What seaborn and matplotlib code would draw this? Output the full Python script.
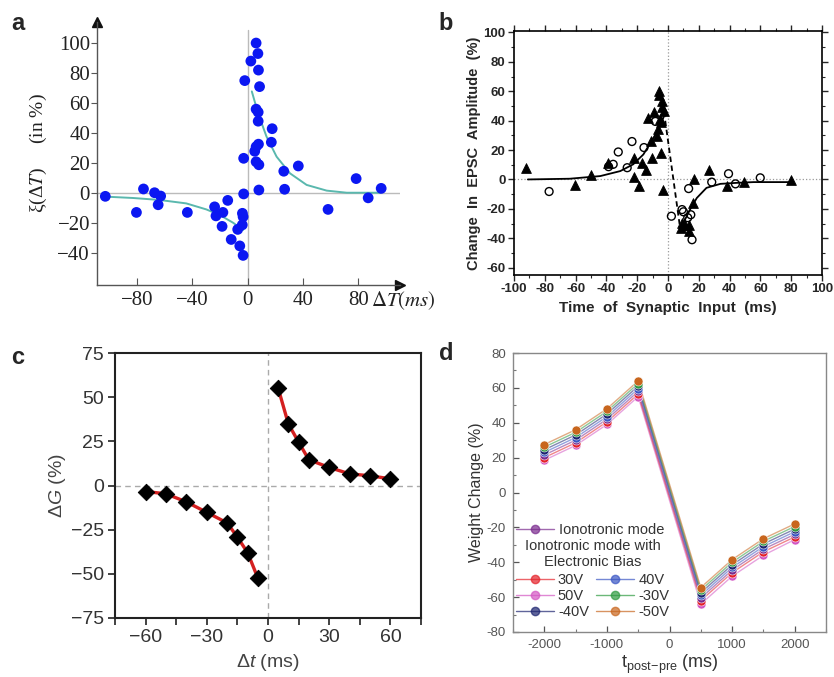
import numpy as np
import pandas as pd
import matplotlib
matplotlib.use("Agg")
import matplotlib.pyplot as plt
import matplotlib.ticker as mticker
from matplotlib.lines import Line2D
import seaborn as sns

# ---------------- Panel a data ----------------
a_dt = [-103, -80.5, -75.4, -67.4, -64.8, -63, -43.7, -24, -23, -18, -14.5, -18.6, -12,
        -7.3, -5.8, -4, -3.9, -3.4, -3.4, -3, -3, -2.2, 2.2, 6, 7.3, 7.7, 8.5, 6, 7.5, 7.5,
        7.7, 6, 5, 6, 8, 8, 17.6, 17, 26, 26.6, 36.5, 58, 78.3, 87, 96.4]
a_xi = [-2, -12.7, 2.9, 0.4, -7.6, -1.8, -12.7, -9, -15, -12.7, -4.7, -22, -30.7,
        -24, -35, -21, -13.3, -15.6, -41.3, -0.4, 23.3, 75, 88, 100, 93, 82, 71, 56, 54, 48,
        32.7, 31, 28, 21, 19, 2.2, 43, 34, 14.7, 2.7, 18.2, -10.7, 9.8, -3, 3.3]
a_fit_neg_x = [-103, -83, -64, -44.5, -30, -20.3, -10.6, -3.4]
a_fit_neg_y = [-2.2, -3.1, -4.4, -6.7, -10.7, -14.4, -19.6, -24.4]
a_fit_pos_x = [2.9, 7.5, 13.5, 20.8, 30.5, 42.5, 57, 71.5, 95.7]
a_fit_pos_y = [67.8, 53, 37.8, 24.4, 13.3, 5.6, 1.8, 0.4, 0.4]
a_xticks = [-80, -40, 0, 40, 80]
a_yticks = [-40, -20, 0, 20, 40, 60, 80, 100]

# ---------------- Panel b data ----------------
b_tri_x = [-92, -60.3, -50.3, -38.8, -22.3, -22.3, -19, -16.9, -14.3, -13, -10.8, -10.2, -8.9,
           -7.4, -6.7, -6.1, -5.6, -5.2, -4.8, -4.1, -3.7, -3.3, -2.8, -4.3,
           8.7, 9.3, 11, 13.4, 13.9, 16.5, 16.9, 26.9, 38.2, 49.5, 79.6]
b_tri_y = [7.5, -3.9, 2.7, 11, 1.8, 14.8, -4.6, 11, 6.6, 41.8, 26.3, 14.8, 45.7,
           29.7, 34.2, 60.5, 57.5, 41, 18.3, 49, 53.7, -7.3, 46.8, 38.8,
           -33, -29.7, -30.8, -35, -30.8, -16, 0, 6.2, -4.6, -1.6, -0.5]
b_circ_x = [-77.2, -38.6, -35.6, -32.3, -26.5, -23.4, -15.6, -8.2, 2.2, 9.1, 10, 13.4,
            14.8, 15.6, 12.8, 28.4, 39.3, 43.8, 59.9]
b_circ_y = [-8.2, 8.7, 10.3, 18.7, 8, 25.8, 21.7, 39.5, -25, -20.5, -22, -6.2,
            -24, -41, -26, -1.8, 3.9, -3, 1.1]
b_fit_l_x = [-91, -63.8, -44, -31, -22.6, -16, -10.6, -6.3, -3, -2.6]
b_fit_l_y = [0, 0.5, 2.3, 5.7, 10.3, 17, 26.3, 34, 42, 46]
b_dash_x = [-2.6, 8]
b_dash_y = [46, -34]
b_fit_r_x = [8, 11, 14.3, 18.7, 25, 34, 44.7, 55.5, 79.4]
b_fit_r_y = [-33, -27.4, -20.5, -12.6, -5.7, -3, -2.3, -1.8, -1.8]

# ---------------- Panel c data ----------------
c_dt_neg = [-60, -50, -40, -30, -20, -15, -10, -5]
c_dg_neg = [-3.4, -4.7, -9.3, -15.2, -21.2, -29.2, -38, -52.3]
c_dt_pos = [5, 10, 15, 20, 30, 40, 50, 60]
c_dg_pos = [55, 34.8, 24.6, 14.6, 10.2, 6.6, 5.5, 3.8]

# ---------------- Panel d data ----------------
d_t = [-2000, -1500, -1000, -500, 500, 1000, 1500, 2000]
d_names = ["Ionotronic mode", "30V", "40V", "50V", "-30V", "-40V", "-50V"]
d_ion = [21.5, 30.0, 42.0, 58.0, -60.5, -44.5, -32.5, -24.0]
d_30 = [20.0, 28.5, 40.5, 56.5, -62.0, -46.0, -34.0, -25.5]
d_40 = [23.0, 31.5, 43.5, 59.5, -59.0, -43.0, -31.0, -22.5]
d_50 = [18.5, 27.0, 39.0, 55.0, -64.0, -48.0, -36.0, -27.0]
d_m30 = [26.0, 34.5, 46.5, 62.5, -56.0, -40.0, -28.0, -19.5]
d_m40 = [24.5, 33.0, 45.0, 61.0, -57.5, -41.5, -29.5, -21.0]
d_m50 = [27.5, 36.0, 48.0, 64.0, -54.5, -38.5, -26.5, -18.0]
d_colors = {"Ionotronic mode": "#7a2a8e", "30V": "#e4222a", "40V": "#3a56c4",
            "50V": "#d356c3", "-30V": "#2e9a40", "-40V": "#1d2470", "-50V": "#c8661e"}

sns.set_style("ticks")
plt.rcParams["font.family"] = ["Liberation Sans", "DejaVu Sans"]
plt.rcParams["mathtext.fontset"] = "custom"
plt.rcParams["mathtext.rm"] = "Liberation Sans"
plt.rcParams["mathtext.it"] = "Liberation Sans:italic"

fig = plt.figure(figsize=(8.34, 6.77), dpi=100)
W, H = 834.0, 677.0

def place(l, t, r, b):
    return [l / W, 1 - b / H, (r - l) / W, (b - t) / H]

hy = mticker.FuncFormatter(lambda v, p: f"{v:g}")

# ================= Panel a =================
axA = fig.add_axes(place(97, 22, 400, 285))
serif = "Liberation Serif"
axA.axhline(0, color="#bbbbbb", lw=1.0, zorder=0)
axA.axvline(0, color="#bbbbbb", lw=1.0, zorder=0, ymax=0.97)
sns.lineplot(x=a_fit_neg_x, y=a_fit_neg_y, color="#5ab8ae", lw=1.4, ax=axA, estimator=None, sort=False)
sns.lineplot(x=a_fit_pos_x, y=a_fit_pos_y, color="#5ab8ae", lw=1.4, ax=axA, estimator=None, sort=False)
sns.scatterplot(x=a_dt, y=a_xi, color="#0b17f2", s=60, edgecolor="none", ax=axA, zorder=3)
axA.set_xlim(-109, 110)
axA.set_ylim(-61, 114)
for s in ["top", "right"]:
    axA.spines[s].set_visible(False)
for s in ["left", "bottom"]:
    axA.spines[s].set_color("#555555")
    axA.spines[s].set_linewidth(1.0)
axA.set_xticks(a_xticks)
axA.set_yticks(a_yticks)
axA.tick_params(axis="x", direction="in", length=5, color="#555555", pad=4)
axA.tick_params(axis="y", direction="out", length=4, color="#555555", pad=1)
for lab in axA.get_xticklabels() + axA.get_yticklabels():
    lab.set_fontfamily(serif)
    lab.set_fontsize(15)
    lab.set_color("#222222")
axA.plot(1, 0, ">", color="#111111", ms=7, transform=axA.transAxes, clip_on=False)
axA.plot(0, 1, "^", color="#111111", ms=7, transform=axA.transAxes, clip_on=False)
axA.set_ylabel(r"ξ(Δ$\mathit{T}$)     (in %)", fontfamily=serif, fontsize=14, math_fontfamily="stix",
               color="#222222", labelpad=6)
axA.text(0.905, -0.058, r"$\mathit{\Delta T(ms)}$", transform=axA.transAxes, ha="left", va="center",
         fontsize=15, math_fontfamily="stix", color="#222222")
axA.set_xlabel("")

# ================= Panel b =================
axB = fig.add_axes(place(514, 31, 822, 275))
axB.axhline(0, color="#999999", lw=0.9, ls=":", zorder=0)
axB.axvline(0, color="#999999", lw=0.9, ls=":", zorder=0)
sns.lineplot(x=b_fit_l_x, y=b_fit_l_y, color="black", lw=1.3, ax=axB, estimator=None, sort=False)
sns.lineplot(x=b_fit_r_x, y=b_fit_r_y, color="black", lw=1.3, ax=axB, estimator=None, sort=False)
sns.lineplot(x=b_dash_x, y=b_dash_y, color="black", lw=1.3, ax=axB, estimator=None, sort=False,
             linestyle=(0, (3, 2)))
sns.scatterplot(x=b_tri_x, y=b_tri_y, marker="^", color="black", s=50, edgecolor="black", ax=axB, zorder=3)
sns.scatterplot(x=b_circ_x, y=b_circ_y, marker="o", facecolor="none", edgecolor="black", linewidth=1.0,
                s=32, ax=axB, zorder=3)
axB.set_xlim(-100, 100)
axB.set_ylim(-65, 101)
axB.set_xticks(np.arange(-100, 101, 20))
axB.set_yticks(np.arange(-60, 101, 20))
axB.xaxis.set_minor_locator(mticker.MultipleLocator(10))
axB.yaxis.set_minor_locator(mticker.MultipleLocator(10))
axB.xaxis.set_major_formatter(hy)
axB.yaxis.set_major_formatter(hy)
axB.tick_params(which="major", direction="out", length=4, width=1.0, labelsize=9.5, pad=2)
axB.tick_params(which="minor", direction="out", length=2.5, width=0.8)
axB.tick_params(which="both", top=True, right=True)
for lab in axB.get_xticklabels() + axB.get_yticklabels():
    lab.set_fontweight("bold")
for s in axB.spines.values():
    s.set_linewidth(1.2)
    s.set_color("black")
axB.set_xlabel("Time  of  Synaptic  Input  (ms)", fontsize=11, fontweight="bold", labelpad=4)
axB.set_ylabel("Change  In  EPSC  Amplitude  (%)", fontsize=10.5, fontweight="bold", labelpad=2)

# ================= Panel c =================
axC = fig.add_axes(place(115, 353, 421, 618))
axC.axhline(0, color="#aaaaaa", lw=1.0, ls=(0, (4, 3)), zorder=0)
axC.axvline(0, color="#aaaaaa", lw=1.0, ls=(0, (4, 3)), zorder=0)
for xs, ys in [(c_dt_neg, c_dg_neg), (c_dt_pos, c_dg_pos)]:
    sns.lineplot(x=xs, y=ys, color="#d42020", lw=2.4, ax=axC, estimator=None, sort=False, zorder=2)
    sns.scatterplot(x=xs, y=ys, marker="D", color="black", s=70, edgecolor="black", ax=axC, zorder=3)
axC.set_xlim(-75, 75)
axC.set_ylim(-75, 75)
axC.set_xticks([-60, -30, 0, 30, 60])
axC.set_yticks([-75, -50, -25, 0, 25, 50, 75])
axC.xaxis.set_minor_locator(mticker.FixedLocator([-75, -45, -15, 15, 45, 75]))
axC.tick_params(which="major", direction="out", length=5, width=1.3, labelsize=14, colors="#333333",
                pad=3)
axC.tick_params(which="minor", direction="out", length=5, width=1.3, color="#333333")
for s in axC.spines.values():
    s.set_linewidth(1.5)
    s.set_color("#222222")
axC.set_xlabel(r"Δ$\mathit{t}$ (ms)", fontsize=14, color="#444444", labelpad=4)
axC.set_ylabel(r"Δ$\mathit{G}$ (%)", fontsize=14, color="#444444", labelpad=2)

# ================= Panel d =================
axD = fig.add_axes(place(513, 353, 826, 632))
d_series = {"Ionotronic mode": d_ion, "30V": d_30, "40V": d_40, "50V": d_50,
            "-30V": d_m30, "-40V": d_m40, "-50V": d_m50}
draw_order = ["50V", "30V", "Ionotronic mode", "40V", "-40V", "-30V", "-50V"]
for name in draw_order:
    vals = d_series[name]
    sns.lineplot(x=d_t, y=vals, color=d_colors[name], lw=1.0, alpha=0.55, ax=axD, estimator=None,
                 sort=False)
    sns.scatterplot(x=d_t, y=vals, color=d_colors[name], s=42, edgecolor="white", linewidth=0.4,
                    ax=axD, zorder=3)
axD.set_xlim(-2500, 2500)
axD.set_ylim(-80, 80)
axD.set_xticks([-2000, -1000, 0, 1000, 2000])
axD.set_yticks(np.arange(-80, 81, 20))
axD.xaxis.set_minor_locator(mticker.MultipleLocator(500))
axD.yaxis.set_minor_locator(mticker.MultipleLocator(10))
axD.xaxis.set_major_formatter(hy)
axD.yaxis.set_major_formatter(hy)
axD.tick_params(which="major", direction="in", length=4, width=0.9, labelsize=9.5, colors="#555555", pad=5)
axD.tick_params(which="minor", direction="in", length=2.5, width=0.8, color="#777777")
for s in axD.spines.values():
    s.set_linewidth(1.0)
    s.set_color("#888888")
axD.set_xlabel(r"$\mathregular{t_{post\!-\!pre}}$ (ms)", fontsize=13, color="#333333", labelpad=1)
axD.set_ylabel("Weight Change (%)", fontsize=11.5, color="#333333", labelpad=2)

def handle(name):
    return Line2D([], [], color=d_colors[name], lw=1.0, alpha=0.7, marker="o", ms=6,
                  markerfacecolor=d_colors[name], markeredgecolor=d_colors[name])

leg1 = axD.legend([handle("Ionotronic mode")], ["Ionotronic mode"], loc="center left",
                  bbox_to_anchor=(-0.015, 0.366), frameon=False, fontsize=10.5, handlelength=2.6,
                  handletextpad=0.4, borderpad=0, labelcolor="#333333")
axD.add_artist(leg1)
axD.text(0.255, 0.28, "Ionotronic mode with\nElectronic Bias", transform=axD.transAxes,
         ha="center", va="center", fontsize=10.5, color="#333333", linespacing=1.15)
order2 = ["30V", "50V", "-40V", "40V", "-30V", "-50V"]
leg2 = axD.legend([handle(n) for n in order2], order2, loc="center left", ncol=2,
                  bbox_to_anchor=(-0.015, 0.129), frameon=False, fontsize=10.5, handlelength=2.6,
                  handletextpad=0.3, borderpad=0, columnspacing=0.5, labelspacing=0.15,
                  labelcolor="#333333")

# Panel letters
for letter, x, y in [("a", 18, 24), ("b", 446, 24), ("c", 18, 357), ("d", 446, 353)]:
    fig.text(x / W, 1 - y / H, letter, fontsize=17, fontweight="bold", ha="center", va="center")

fig.savefig("out.png", dpi=100)
